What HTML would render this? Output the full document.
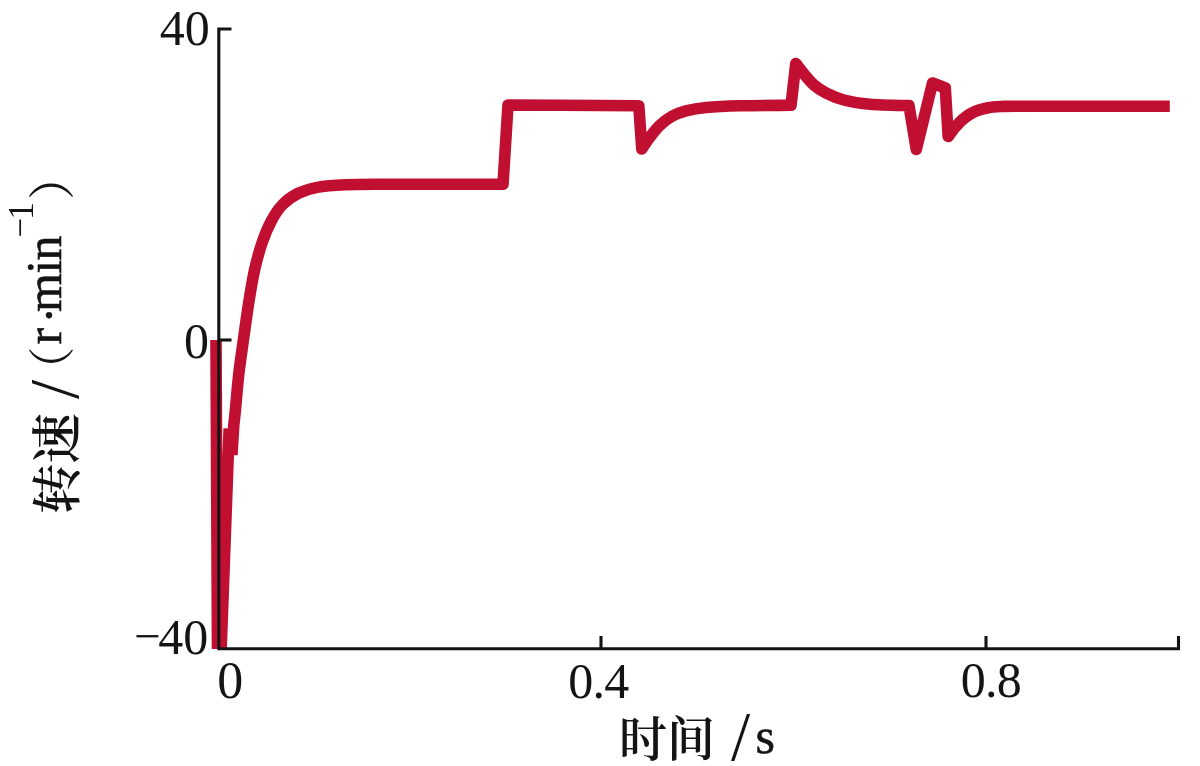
<!DOCTYPE html>
<html lang="zh">
<head>
<meta charset="utf-8">
<title>转速 - 时间</title>
<style>
html,body{margin:0;padding:0;background:#fff;}
body{width:1200px;height:766px;overflow:hidden;}
svg{display:block;filter:blur(0.45px);}
text{font-family:"Liberation Serif","Noto Serif CJK SC",serif;fill:#141414;}
.t{font-size:50px;}
.cjk{font-family:"Noto Serif CJK SC","Liberation Serif",serif;font-size:50px;font-weight:600;}
.sup{font-size:35px;}
.sl{font-size:69px;}
.par{font-size:47px;font-weight:400;}
.b{stroke:#141414;stroke-width:0.6px;}
</style>
</head>
<body>
<svg width="1200" height="766" viewBox="0 0 1200 766">
<rect width="1200" height="766" fill="#ffffff"/>
<defs><clipPath id="plot"><rect x="200" y="20" width="990" height="629"/></clipPath></defs>

<!-- curve -->
<g clip-path="url(#plot)">
<path id="curve" fill="none" stroke="#c00f31" stroke-width="11.6" stroke-linejoin="round" stroke-linecap="butt"
 d="M216 340 L217.5 653.0 L221.0 653.0 L229.2 428.5 M231.9 455 L233.8 425 C234.1 422.5 234.6 418.5 235.4 410.0 C236.2 401.5 237.5 385.6 238.8 373.8 C240.2 362.0 241.9 350.8 243.5 339.3 C245.1 327.8 246.6 316.3 248.4 304.8 C250.2 293.3 252.2 280.8 254.5 270.3 C256.8 259.9 259.4 250.4 262.3 242.1 C265.2 233.8 268.3 226.5 271.7 220.2 C275.1 213.9 278.2 209.0 282.7 204.5 C287.1 200.0 292.6 196.2 298.4 193.3 C304.1 190.5 309.4 188.8 317.2 187.4 C325.0 186.0 334.9 185.3 345.4 184.8 C355.9 184.3 365.1 184.3 380.0 184.2 C394.9 184.1 414.5 184.2 435.0 184.2 C455.5 184.2 491.7 184.3 503.0 184.3 L508.0 105.0 L560.0 105.2 L638.8 105.8 L641.8 149.0 C643.2 147.0 647.0 140.9 650.0 137.0 C653.0 133.1 656.3 128.8 660.0 125.3 C663.7 121.8 667.7 118.7 672.0 116.3 C676.3 113.9 680.3 112.4 686.0 110.9 C691.7 109.4 697.0 108.3 706.0 107.5 C715.0 106.7 725.8 106.2 740.0 105.8 C754.2 105.4 782.5 105.4 791.0 105.3 L795.8 63.5 C797.2 65.2 801.0 70.4 804.0 74.0 C807.0 77.6 810.3 81.8 814.0 85.0 C817.7 88.2 821.0 90.5 826.0 93.0 C831.0 95.5 836.7 98.1 844.0 100.0 C851.3 101.9 859.2 103.3 870.0 104.2 C880.8 105.1 902.5 105.4 909.0 105.6 L916.3 149.5 L932.5 83.0 L945.3 88.0 L948.2 136.5 C950.0 133.7 956.0 125.8 960.0 122.0 C964.0 118.2 967.3 115.4 972.0 113.0 C976.7 110.6 982.7 108.9 988.0 107.8 C993.3 106.7 998.7 106.7 1004.0 106.4 C1009.3 106.1 1014.0 106.2 1020.0 106.2 C1026.0 106.2 1036.7 106.2 1040.0 106.2 L1169.8 106.2"/>
</g>

<!-- axes -->
<g stroke="#141414" stroke-width="3.1" fill="none" stroke-linecap="butt">
<path d="M231.5 29 L218.8 29 L218.8 648.7 L1178.5 648.7 L1178.5 636"/>
<path d="M218.8 340 L231.5 340"/>
<path d="M601 648.7 L601 636"/>
<path d="M986 648.7 L986 636"/>
</g>

<!-- y tick labels -->
<text class="t" x="209.7" y="45" text-anchor="end">40</text>
<text class="t" x="209" y="358.2" text-anchor="end">0</text>
<text class="t" x="208.3" y="653.8" text-anchor="end">40</text>
<text class="t" x="134.2" y="652.3" style="font-size:47px">−</text>

<!-- x tick labels -->
<text class="t" x="230.2" y="698.4" text-anchor="middle" style="font-size:52px">0</text>
<text class="t" x="598.3" y="697.8" text-anchor="middle" style="letter-spacing:-0.8px">0.4</text>
<text class="t" x="990.8" y="696.8" text-anchor="middle" style="letter-spacing:-0.8px">0.8</text>

<!-- x axis title -->
<text class="cjk" x="619.1" y="756" style="font-size:48px">时间</text>
<text class="sl" x="731" y="760">/</text>
<text class="t b" x="755.5" y="752.5">s</text>

<!-- y axis title -->
<g transform="translate(61,0) rotate(-90)">
<text class="cjk" x="-514" y="14" style="font-size:50.5px">转速</text>
<text class="sl" x="-399" y="17.2">/</text>
<text class="cjk par" x="-393.5" y="8">（</text>
<text class="t b" x="-344.5" y="0">r</text>
<text class="t b" x="-323.5" y="5">·</text>
<text class="t b" x="-312" y="0" style="letter-spacing:-0.7px">min</text>
<text class="t sup" x="-237.5" y="-29.5">−</text>
<text class="t sup" x="-219.8" y="-28">1</text>
<text class="cjk par" x="-200" y="7.5">）</text>
</g>
</svg>
</body>
</html>
